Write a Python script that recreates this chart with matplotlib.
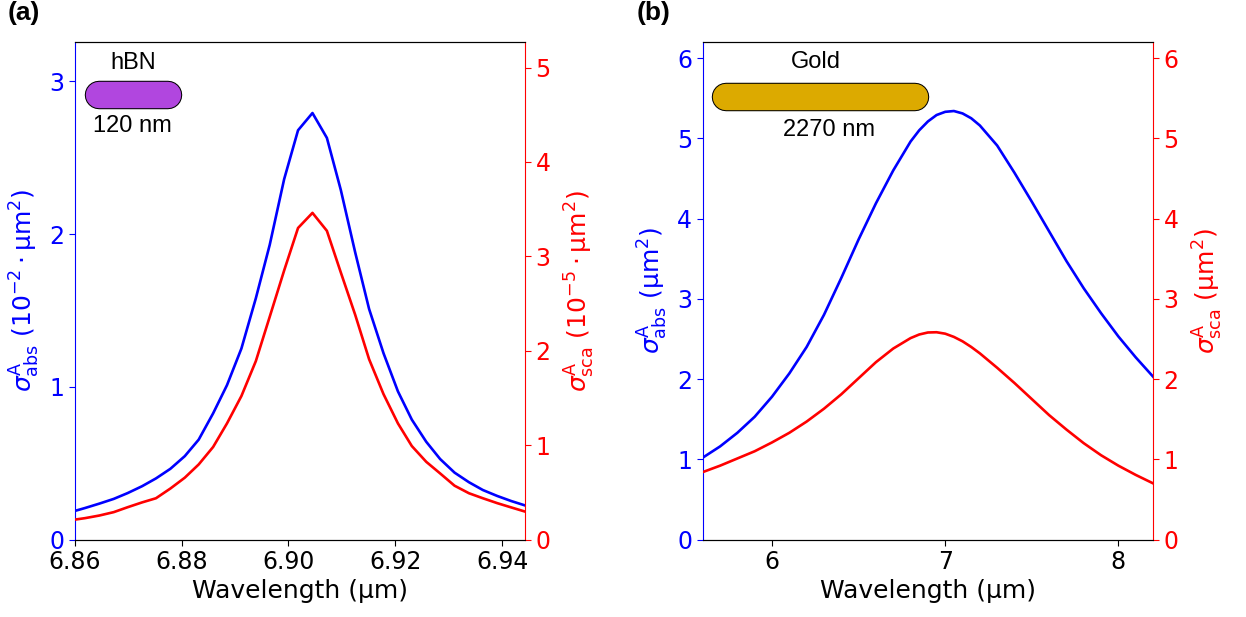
import matplotlib
matplotlib.use("Agg")
import matplotlib.pyplot as plt
import matplotlib.patheffects as pe

# hBN nanorod (120 nm): cross sections vs wavelength
hbn_wl = [6.8593, 6.8619, 6.8646, 6.8673, 6.8699, 6.8726, 6.8752, 6.8779, 6.8806,
          6.8832, 6.8859, 6.8885, 6.8912, 6.8939, 6.8965, 6.8992, 6.9018, 6.9045,
          6.9072, 6.9098, 6.9125, 6.9151, 6.9178, 6.9205, 6.9231, 6.9258, 6.9284,
          6.9311, 6.9338, 6.9364, 6.9391, 6.9417, 6.9444]
hbn_abs = [0.180, 0.206, 0.235, 0.266, 0.304, 0.349, 0.400, 0.463, 0.546,
           0.654, 0.826, 1.011, 1.251, 1.580, 1.930, 2.360, 2.680, 2.793,
           2.630, 2.290, 1.880, 1.510, 1.220, 0.970, 0.785, 0.640, 0.527,
           0.438, 0.375, 0.324, 0.285, 0.252, 0.222]
hbn_sca = [0.205, 0.226, 0.254, 0.290, 0.342, 0.393, 0.437, 0.540, 0.655,
           0.795, 0.980, 1.230, 1.520, 1.890, 2.360, 2.850, 3.300, 3.460,
           3.270, 2.830, 2.380, 1.910, 1.540, 1.230, 0.990, 0.823, 0.700,
           0.570, 0.490, 0.437, 0.385, 0.340, 0.294]

# gold nanorod (2270 nm)
gold_wl = [5.60, 5.70, 5.80, 5.90, 6.00, 6.10, 6.20, 6.30, 6.40, 6.50,
           6.60, 6.70, 6.80, 6.85, 6.90, 6.95, 7.00, 7.05, 7.10, 7.15,
           7.20, 7.30, 7.40, 7.50, 7.60, 7.70, 7.80, 7.90, 8.00, 8.10, 8.20]
gold_abs = [1.02, 1.16, 1.33, 1.53, 1.78, 2.07, 2.40, 2.80, 3.26, 3.74,
            4.19, 4.60, 4.96, 5.10, 5.21, 5.29, 5.33, 5.34, 5.31, 5.25,
            5.16, 4.91, 4.57, 4.21, 3.84, 3.47, 3.13, 2.82, 2.53, 2.27, 2.03]
gold_sca = [0.84, 0.92, 1.01, 1.10, 1.21, 1.33, 1.47, 1.63, 1.81, 2.01,
            2.21, 2.38, 2.51, 2.555, 2.58, 2.583, 2.565, 2.525, 2.47, 2.40,
            2.32, 2.14, 1.95, 1.75, 1.55, 1.37, 1.20, 1.05, 0.92, 0.805, 0.70]

plt.rcParams["font.family"] = "DejaVu Sans"
plt.rcParams["mathtext.fontset"] = "dejavusans"

fig = plt.figure(figsize=(12.46, 6.17), dpi=100)


def twin_panel(rect, wl, y_a, y_s, xlim, ylim_a, ylim_s, xticks, xfmt,
               yticks_a, yticks_s, lab_a, lab_s):
    ax = fig.add_axes(rect)
    ax2 = ax.twinx()
    ax.plot(wl, y_a, color="blue", lw=1.9)
    ax2.plot(wl, y_s, color="red", lw=1.9)
    ax.set_xlim(*xlim)
    ax.set_ylim(*ylim_a)
    ax2.set_ylim(*ylim_s)
    ax.set_xticks(xticks)
    ax.set_xticklabels([xfmt.format(v) for v in xticks])
    ax.set_yticks(yticks_a)
    ax2.set_yticks(yticks_s)
    ax.set_xlabel("Wavelength (µm)", fontsize=18)
    ax.set_ylabel(lab_a, color="blue", fontsize=18, labelpad=5)
    ax2.set_ylabel(lab_s, color="red", fontsize=18, labelpad=9)
    ax.tick_params(axis="x", labelsize=17, length=4)
    ax.tick_params(axis="y", labelsize=17, length=4, colors="blue")
    ax2.tick_params(axis="y", labelsize=17, length=4, colors="red")
    ax.spines["left"].set_color("blue")
    ax.spines["right"].set_visible(False)
    ax2.spines["left"].set_visible(False)
    ax2.spines["right"].set_color("red")
    return ax


def rod(ax, x0, x1, y, color, name, size, name_xy, size_xy):
    ax.plot([x0, x1], [y, y], transform=ax.transAxes, color=color, lw=19,
            solid_capstyle="round", zorder=5,
            path_effects=[pe.Stroke(linewidth=20.5, foreground="black"), pe.Normal()])
    ax.text(*name_xy, name, transform=ax.transAxes, ha="center", va="center",
            fontsize=17, family="Liberation Sans", zorder=6)
    ax.text(*size_xy, size, transform=ax.transAxes, ha="center", va="center",
            fontsize=17, family="Liberation Sans", zorder=6)


ax_a = twin_panel([0.060, 0.1256, 0.3614, 0.8063], hbn_wl, hbn_abs, hbn_sca,
                  (6.86, 6.9443), (0, 3.258), (0, 5.27),
                  [6.86, 6.88, 6.90, 6.92, 6.94], "{:.2f}", [0, 1, 2, 3],
                  [0, 1, 2, 3, 4, 5],
                  r"$\sigma^{\mathrm{A}}_{\mathrm{abs}}$ $(10^{-2}\cdot\mathrm{µm}^2)$",
                  r"$\sigma^{\mathrm{A}}_{\mathrm{sca}}$ $(10^{-5}\cdot\mathrm{µm}^2)$")
rod(ax_a, 0.053, 0.208, 0.8925, "#b146df", "hBN", "120 nm", (0.129, 0.958), (0.129, 0.831))

ax_b = twin_panel([0.564, 0.1256, 0.3614, 0.8063], gold_wl, gold_abs, gold_sca,
                  (5.6, 8.2), (0, 6.2), (0, 6.2), [6, 7, 8], "{:.0f}",
                  [0, 1, 2, 3, 4, 5, 6], [0, 1, 2, 3, 4, 5, 6],
                  r"$\sigma^{\mathrm{A}}_{\mathrm{abs}}$ $(\mathrm{µm}^2)$",
                  r"$\sigma^{\mathrm{A}}_{\mathrm{sca}}$ $(\mathrm{µm}^2)$")
rod(ax_b, 0.052, 0.471, 0.889, "#dcaa00", "Gold", "2270 nm", (0.251, 0.960), (0.280, 0.823))

fig.text(0.006, 0.999, "(a)", fontsize=19, fontweight="bold", family="Liberation Sans",
         va="top", ha="left")
fig.text(0.511, 0.999, "(b)", fontsize=19, fontweight="bold", family="Liberation Sans",
         va="top", ha="left")

fig.savefig("out.png", dpi=100)
